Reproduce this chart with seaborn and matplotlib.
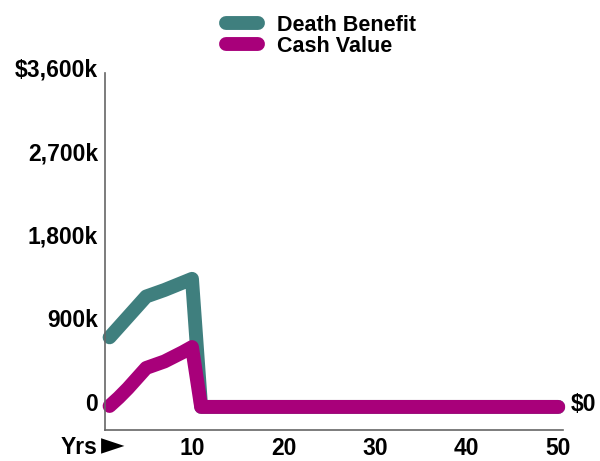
import matplotlib
matplotlib.use("Agg")
import matplotlib.pyplot as plt
import matplotlib.transforms as mtransforms
import seaborn as sns
import pandas as pd

years = list(range(1, 51))
death_benefit_k = [750, 860, 970, 1080, 1190, 1225, 1260, 1300, 1340, 1380] + [0] * 40
cash_value_k = [10, 100, 200, 310, 420, 455, 490, 540, 590, 645] + [0] * 40
series_names = ["Death Benefit", "Cash Value"]
series_colors = ["#3f7f7e", "#a8007a"]
y_ticks = [0, 900, 1800, 2700, 3600]
y_tick_labels = ["0", "900k", "1,800k", "2,700k", "$3,600k"]
x_ticks = [10, 20, 30, 40, 50]

sns.set_theme(style="white")
plt.rcParams["font.family"] = ["Liberation Sans", "DejaVu Sans"]
plt.rcParams["text.color"] = "black"
plt.rcParams["xtick.color"] = "black"
plt.rcParams["ytick.color"] = "black"

df = pd.DataFrame({
    "year": years * 2,
    "value": death_benefit_k + cash_value_k,
    "series": [series_names[0]] * len(years) + [series_names[1]] * len(years),
})

fig = plt.figure(figsize=(6, 4.61), dpi=100)
ax = fig.add_axes([0.175, 0.067, 0.763, 0.775])

sns.lineplot(data=df, x="year", y="value", hue="series", hue_order=series_names,
             palette=series_colors, linewidth=10, ax=ax, legend=False)
for line in ax.get_lines():
    line.set_solid_capstyle("round")
    line.set_solid_joinstyle("round")
    line.set_clip_on(False)

ax.set_xlim(0.5, 50.5)
ax.set_ylim(-250, 3600)
ax.set_xticks(x_ticks)
ax.set_xticklabels([str(t) for t in x_ticks], fontsize=16.5, fontweight="bold")
ax.set_yticks(y_ticks)
ax.set_yticklabels(y_tick_labels, fontsize=16.5, fontweight="bold")
ax.tick_params(axis="both", length=0, colors="black")
ax.tick_params(axis="y", pad=5)
ax.tick_params(axis="x", pad=5)
ax.set_xlabel("")
ax.set_ylabel("")

shift = mtransforms.ScaledTranslation(0, 5 / 100, fig.dpi_scale_trans)
for lbl in ax.get_yticklabels():
    lbl.set_transform(lbl.get_transform() + shift)

for side in ["top", "right"]:
    ax.spines[side].set_visible(False)
for side in ["left", "bottom"]:
    ax.spines[side].set_color("#666666")
    ax.spines[side].set_linewidth(1.2)

# axis captions
fig.text(97 / 600, 1 - 447 / 461, "Yrs", ha="right", va="center",
         fontsize=16.5, fontweight="bold")
fig.text(101 / 600, 1 - 446 / 461, "\u25BA", ha="left", va="center",
         fontsize=22, color="black", family=["DejaVu Sans"])
ax.annotate("$0", xy=(50, 0), xytext=(9, 2), textcoords="offset points",
            ha="left", va="center", fontsize=16.5, fontweight="bold")

handles = [plt.Line2D([], [], color=c, linewidth=10, solid_capstyle="round")
           for c in series_colors]
fig.legend(handles, series_names, loc="upper center", bbox_to_anchor=(0.535, 1.01),
           frameon=False, handlelength=1.5, labelspacing=0.0, handletextpad=0.9,
           prop={"size": 15.5, "weight": "bold"})

fig.savefig("out.png", dpi=100)
